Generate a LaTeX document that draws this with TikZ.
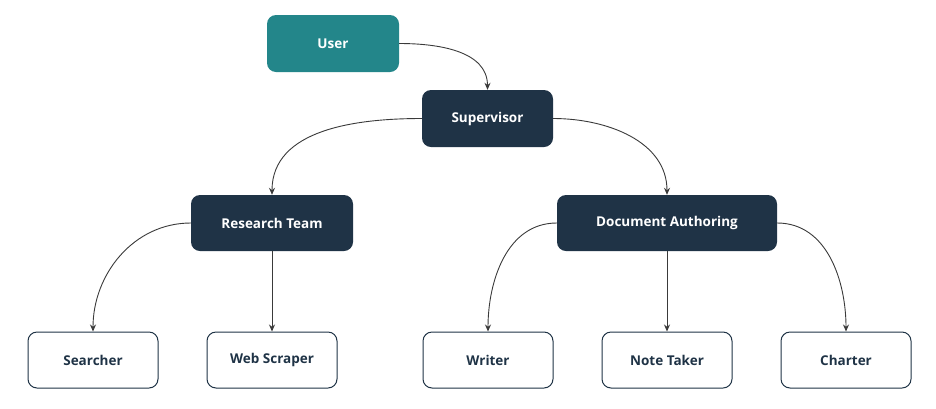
\documentclass[tikz,border=0pt]{standalone}
\usepackage{fontspec}
\setmainfont{Open Sans}
\usetikzlibrary{arrows.meta}
\definecolor{teal1}{HTML}{23868A}
\definecolor{navy}{HTML}{1F3346}
\definecolor{edge}{HTML}{3A3A3A}
\begin{document}
\begin{tikzpicture}[x=1pt,y=-1pt,
  box/.style={rounded corners=9pt,minimum height=57pt,inner sep=0pt,font=\bfseries\fontsize{13.5}{16}\selectfont},
  dark/.style={box,fill=navy,text=white},
  light/.style={box,fill=white,draw=navy,line width=1pt,text=navy,minimum width=130pt,minimum height=56pt},
  con/.style={draw=edge,line width=0.9pt,-{Stealth[length=7pt,width=6pt]}}]
\useasboundingbox (0,0) rectangle (936,408);
\node[box,fill=teal1,text=white,minimum width=132pt] (user) at (333,43.5) {User};
\node[dark,minimum width=131pt] (sup) at (487.5,118.5) {Supervisor};
\node[dark,minimum width=162pt,minimum height=56pt] (rt) at (272,223) {Research Team};
\node[dark,minimum width=220pt,minimum height=56pt] (da) at (667,223) {Document Authoring};
\node[light] (s) at (93,360) {Searcher};
\node[light] (w) at (272,360) {Web Scraper};
\node[light] (wr) at (488,360) {Writer};
\node[light] (n) at (667,360) {Note Taker};
\node[light] (c) at (846,360) {Charter};
\draw[con] (user.east) to[out=0,in=90] (sup.north);
\draw[con] (sup.west) to[out=180,in=90] (rt.north);
\draw[con] (sup.east) to[out=0,in=90] (da.north);
\draw[con] (rt.west) to[out=180,in=90] (s.north);
\draw[con] (rt.south) -- (w.north);
\draw[con] (da.west) to[out=180,in=90] (wr.north);
\draw[con] (da.south) -- (n.north);
\draw[con] (da.east) to[out=0,in=90] (c.north);
\end{tikzpicture}
\end{document}
